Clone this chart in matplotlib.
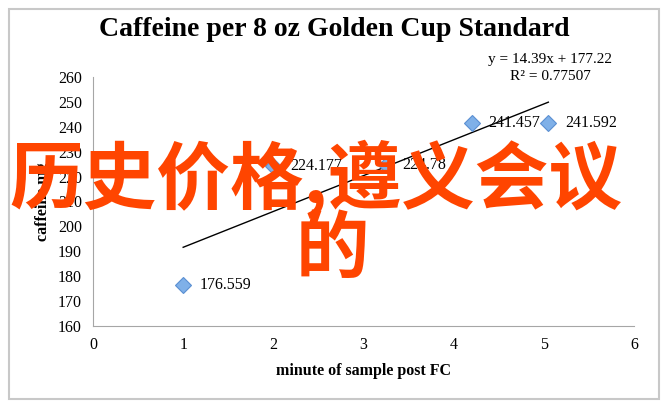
import numpy as np
import matplotlib.pyplot as plt
from matplotlib.patches import Rectangle

# data
minutes = [1, 2, 3.25, 4.2, 5.05]
caffeine = [176.559, 224.177, 224.78, 241.457, 241.592]
slope, intercept, r2 = 14.39, 177.22, 0.77507
x_ticks = [0, 1, 2, 3, 4, 5, 6]
y_ticks = [160, 170, 180, 190, 200, 210, 220, 230, 240, 250, 260]

serif = ['Liberation Serif', 'DejaVu Serif']
cjk = ['Noto Sans CJK SC', 'DejaVu Sans']

fig = plt.figure(figsize=(6.65, 4.07), dpi=100)
ax = fig.add_axes([93 / 665, 1 - 326 / 407, (634 - 93) / 665, (326 - 77) / 407])

# outer chart frame
fig.patches.append(Rectangle((9 / 665, 1 - 399 / 407), 650 / 665, 390 / 407,
                             transform=fig.transFigure, fill=False,
                             edgecolor='#c8c8c8', lw=1.5))

# trend line
xl = np.array([min(minutes), max(minutes)])
ax.plot(xl, slope * xl + intercept, color='black', lw=1, zorder=2)

ax.plot(minutes, caffeine, linestyle='none', marker='D', ms=8,
        mfc='#7fb0e8', mec='#5a8fd2', mew=0.8, zorder=3)
for x, y in zip(minutes, caffeine):
    ax.annotate(f'{y:g}', (x, y), xytext=(12, 0), textcoords='offset points',
                va='center', ha='left', fontsize=11.5, family=serif, zorder=4)

ax.set_xlim(0, 6)
ax.set_ylim(160, 260)
ax.set_xticks(x_ticks)
ax.set_yticks(y_ticks)
ax.tick_params(length=0, labelsize=11.5, pad=8)
for lab in ax.get_xticklabels() + ax.get_yticklabels():
    lab.set_family(serif)
for s in ['top', 'right']:
    ax.spines[s].set_visible(False)
for s in ['left', 'bottom']:
    ax.spines[s].set_color('#a6a6a6')

ax.set_xlabel('minute of sample post FC', fontsize=11.5, fontweight='bold',
              family=serif, labelpad=7)
ax.set_ylabel('caffeine mg', fontsize=11.5, fontweight='bold', family=serif,
              labelpad=5)

fig.text(334 / 665, 1 - 30 / 407, 'Caffeine per 8 oz Golden Cup Standard',
         ha='center', va='center', fontsize=20, fontweight='bold', family=serif)
fig.text(550 / 665, 1 - 60 / 407, f'y = {slope}x + {intercept}',
         ha='center', va='center', fontsize=11, family=serif)
fig.text(550 / 665, 1 - 77 / 407, f'R² = {r2}',
         ha='center', va='center', fontsize=11, family=serif)

# overlaid watermark text
fig.text(316 / 665, 1 - 179 / 407, '历史价格,遵义会议', ha='center', va='center',
         fontsize=53, fontweight='bold', color='#ff4500', family=cjk)
fig.text(332 / 665, 1 - 251 / 407, '的', ha='center', va='center',
         fontsize=53, fontweight='bold', color='#ff4500', family=cjk)

fig.savefig('out.png', dpi=100)
